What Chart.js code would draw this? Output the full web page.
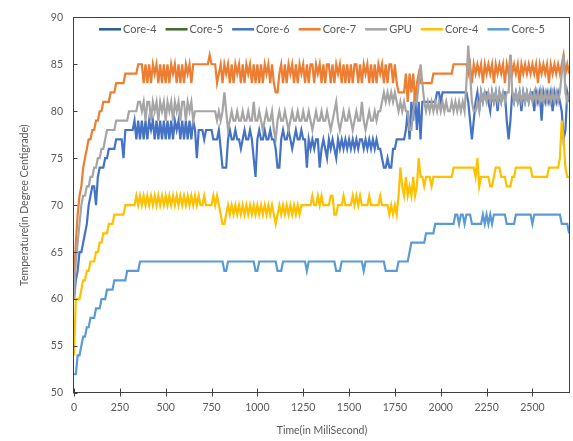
<!DOCTYPE html>
<html>
<head>
<meta charset="utf-8">
<script src="https://cdn.jsdelivr.net/npm/chart.js@4.4.1/dist/chart.umd.min.js"></script>
<style>
  html, body { margin: 0; padding: 0; background: #fff; }
</style>
</head>
<body>
<canvas id="tempChart" width="573" height="441"></canvas>
<script>
// one reading every 10 ms, 0..2700 ms (25 readings per row = 250 ms)
const SAMPLE_MS = 10;

const seriesLabels = ['Core-4', 'Core-5', 'Core-6', 'Core-7', 'GPU', 'Core-4', 'Core-5'];
const seriesColors = ['#255E91', '#43682B', '#4472C4', '#ED7D31', '#A5A5A5', '#FFC000', '#5B9BD5'];

// first Core-4 / Core-5 pair: listed in legend, no visible line in the source
const core4aTemps = [];
const core5aTemps = [];

const core6Temps = [
  60,62,63,65,65,66,67,68,70,71,72,72,70,73,74,74,74,75,75,76,76,76,76,77,77,
  77,77,75,78,78,78,78,78,79,77,79,77,79,77,79,77,79,78,79,77,79,77,79,77,79,
  77,79,77,79,77,79,78,79,77,79,77,79,77,79,77,79,78,75,78,78,78,77,78,78,78,
  78,77,77,77,78,76,74,74,74,77,78,77,77,78,77,77,76,77,78,77,77,78,77,75,73,
  77,78,77,77,78,77,77,78,77,77,76,74,74,77,78,77,77,78,77,76,77,78,77,77,78,
  77,77,74,77,76,77,76,77,77,74,76,77,76,75,77,76,77,76,75,77,76,77,76,77,76,
  77,76,77,76,77,76,77,77,76,77,76,77,76,77,76,77,76,76,75,74,74,75,74,74,76,
  76,77,77,77,77,77,78,80,77,81,79,82,78,81,77,81,81,81,81,81,81,81,81,82,82,
  81,82,82,82,82,82,82,82,82,82,82,82,82,82,82,81,79,77,79,81,82,80,82,81,82,
  82,81,80,82,81,82,80,82,81,82,82,79,77,79,82,81,82,81,82,80,82,81,82,81,82,
  82,80,82,81,82,79,82,81,82,81,82,80,82,81,82,81,80,77,78,82,81
];

const core7Temps = [
  62,66,69,71,72,74,75,76,77,77,78,78,79,79,80,80,81,81,81,81,82,82,82,83,83,
  83,83,83,84,84,84,84,84,84,84,85,85,85,83,85,83,85,83,85,84,85,83,85,83,85,
  83,85,83,85,84,85,83,85,83,85,83,85,84,85,83,85,85,85,85,85,85,85,85,85,86,
  85,85,85,83,84,85,83,85,84,85,83,85,83,85,84,85,83,85,83,85,84,85,83,85,83,
  85,83,85,83,85,84,85,83,85,83,82,82,84,85,83,85,83,85,84,85,83,85,83,85,84,
  85,83,85,83,85,85,83,85,84,85,83,85,83,85,85,83,85,83,85,84,85,83,85,83,85,
  83,85,83,85,85,83,85,83,85,84,85,83,85,83,85,83,85,84,85,83,85,83,85,85,83,
  85,83,82,82,82,82,84,81,84,82,84,81,83,84,83,83,83,83,83,83,83,84,84,84,84,
  84,84,84,84,84,84,84,85,85,85,85,85,85,85,85,84,85,83,85,84,85,84,85,83,85,
  84,85,84,85,83,85,84,85,84,85,83,85,84,86,84,85,84,85,83,85,84,85,84,85,84,
  85,84,85,83,85,84,85,84,85,83,85,84,85,84,85,84,85,86,84,85,84
];

const gpuTemps = [
  60,64,66,68,70,71,71,72,72,73,73,74,74,75,75,76,76,77,78,78,78,78,78,79,79,
  79,79,79,79,79,80,80,80,80,80,81,81,80,81,79,81,81,79,81,80,81,79,81,80,81,
  79,81,80,81,79,81,80,81,79,81,81,79,81,80,81,79,80,80,80,80,80,80,80,80,80,
  80,80,80,79,80,79,80,82,80,78,79,80,79,79,80,79,79,80,79,79,80,79,79,81,79,
  79,80,79,78,79,80,79,79,80,78,77,79,80,79,79,80,79,78,79,80,79,79,80,79,79,
  80,79,79,80,79,78,79,80,79,79,80,79,79,80,79,78,79,80,81,79,78,79,80,79,79,
  80,79,78,79,80,79,79,81,79,78,79,80,79,79,80,79,80,80,81,82,81,82,81,82,81,
  82,81,80,81,80,81,80,80,78,78,80,81,81,83,85,83,81,80,81,80,81,80,81,80,81,
  80,81,80,81,80,80,81,80,81,80,81,80,81,80,83,87,84,81,80,80,81,80,82,81,82,
  81,82,81,82,81,82,81,82,81,82,81,82,82,86,82,81,82,81,82,81,82,81,82,81,82,
  81,82,81,82,81,82,81,82,81,82,81,82,81,82,81,82,84,86,82,81,82
];

const core4bTemps = [
  54,60,60,60,61,62,62,63,63,64,64,64,65,65,66,66,67,67,67,68,68,68,69,69,69,
  69,69,69,70,70,70,70,70,70,71,70,71,70,71,70,71,70,71,70,71,70,71,70,71,70,
  71,70,71,70,71,70,71,70,71,70,71,70,71,70,71,70,71,70,71,70,70,71,70,70,70,
  70,71,70,71,70,69,68,68,69,70,69,70,69,70,69,70,69,70,69,70,69,70,69,70,69,
  70,69,70,69,70,69,70,69,70,69,68,69,70,69,70,69,70,69,70,69,70,69,70,69,70,
  70,70,70,70,70,71,70,70,71,70,71,70,70,70,70,71,71,69,69,70,70,70,71,70,70,
  70,70,71,70,71,70,71,70,70,70,70,71,70,70,70,70,70,71,70,70,70,70,69,70,69,
  70,69,71,74,72,71,73,71,72,71,73,71,72,75,73,73,72,73,73,73,72,73,73,73,73,
  73,73,73,73,73,73,73,74,74,74,74,74,74,74,74,74,74,74,74,73,75,72,73,73,73,
  73,73,72,72,73,74,74,74,73,73,73,72,72,72,73,73,74,74,74,74,74,74,74,74,74,
  73,73,73,73,73,73,73,73,73,74,74,74,74,74,74,75,79,77,74,73,73
];

const core5bTemps = [
  52,52,54,54,55,56,56,57,57,58,58,58,59,59,59,60,60,60,61,61,61,61,62,62,62,
  62,62,62,62,63,63,63,63,63,63,63,64,64,64,64,64,64,64,64,64,64,64,64,64,64,
  64,64,64,64,64,64,64,64,64,64,64,64,64,64,64,64,64,64,64,64,64,64,64,64,64,
  64,64,64,64,64,64,64,63,63,64,64,64,64,64,64,64,64,64,64,64,64,64,64,64,63,
  63,64,64,64,64,64,64,64,64,64,64,63,63,63,64,64,64,64,64,64,64,64,64,64,64,
  64,64,63,64,64,64,64,64,64,64,64,64,64,64,64,64,64,64,63,63,63,64,64,64,64,
  64,64,64,64,64,64,64,64,63,64,64,64,64,64,64,64,64,64,64,64,63,63,63,63,63,
  63,63,64,64,64,64,64,64,65,66,66,66,66,66,66,66,66,67,67,67,67,67,68,68,68,
  68,68,68,68,68,68,68,68,69,69,68,69,69,68,69,69,69,68,68,68,68,68,68,69,68,
  69,68,69,68,69,69,69,69,69,69,69,68,68,68,68,68,69,69,69,69,69,69,69,69,69,
  68,69,69,69,69,69,69,69,69,69,69,69,69,69,69,69,68,68,68,68,67
];

const xTickValues = [0, 250, 500, 750, 1000, 1250, 1500, 1750, 2000, 2250, 2500];
const yMin = 50, yMax = 90, yTickStep = 5;

const allSeries = [core4aTemps, core5aTemps, core6Temps, core7Temps, gpuTemps, core4bTemps, core5bTemps];

const TEXT_COLOR = '#595959';
const FONT = 'Lato, "Liberation Sans", sans-serif';

// legend drawn inside the plot box, like the original
const insideLegend = {
  id: 'insideLegend',
  afterDatasetsDraw(chart) {
    const { ctx, chartArea } = chart;
    const lineW = 22, textGap = 2, itemGap = 9;
    ctx.save();
    ctx.font = '11px ' + FONT;
    const items = chart.data.datasets.map(ds => ({
      label: ds.label, color: ds.borderColor, w: ctx.measureText(ds.label).width
    }));
    const total = items.reduce((s, it) => s + lineW + textGap + it.w, 0) + itemGap * (items.length - 1);
    let x = (chartArea.left + chartArea.right) / 2 - total / 2;
    const y = chartArea.top + 12;
    ctx.textBaseline = 'middle';
    items.forEach(it => {
      ctx.strokeStyle = it.color;
      ctx.lineWidth = 2.5;
      ctx.beginPath();
      ctx.moveTo(x, y);
      ctx.lineTo(x + lineW, y);
      ctx.stroke();
      ctx.fillStyle = TEXT_COLOR;
      ctx.fillText(it.label, x + lineW + textGap, y + 0.5);
      x += lineW + textGap + it.w + itemGap;
    });
    ctx.restore();
  }
};

// plot box and small tick marks
const plotFrame = {
  id: 'plotFrame',
  afterDraw(chart) {
    const { ctx, chartArea: a, scales: { x, y } } = chart;
    ctx.save();
    ctx.strokeStyle = '#404040';
    ctx.lineWidth = 1;
    const l = Math.round(a.left) - 0.5, t = Math.round(a.top) + 0.5;
    const r = Math.round(a.right) - 0.5, b = Math.round(a.bottom) - 0.5;
    ctx.strokeRect(l, t, r - l, b - t);
    ctx.beginPath();
    x.ticks.forEach(tk => {
      const px = Math.round(x.getPixelForValue(tk.value)) + 0.5;
      ctx.moveTo(px, b - 4);
      ctx.lineTo(px, b + 4);
    });
    y.ticks.forEach(tk => {
      const py = Math.round(y.getPixelForValue(tk.value)) + 0.5;
      ctx.moveTo(l, py);
      ctx.lineTo(l + 4, py);
    });
    ctx.stroke();
    ctx.restore();
  }
};

new Chart(document.getElementById('tempChart'), {
  type: 'line',
  data: {
    datasets: allSeries.map((temps, k) => ({
      label: seriesLabels[k],
      data: temps.map((v, i) => ({ x: i * SAMPLE_MS, y: v })),
      borderColor: seriesColors[k],
      backgroundColor: seriesColors[k],
      borderWidth: 2.2,
      pointRadius: 0,
      tension: 0,
      borderJoinStyle: 'miter',
      order: allSeries.length - k
    }))
  },
  options: {
    responsive: false,
    animation: false,
    devicePixelRatio: 1,
    layout: { padding: { top: 14, right: 3, bottom: 0, left: 0 } },
    plugins: {
      legend: { display: false },
      tooltip: { enabled: false }
    },
    scales: {
      x: {
        type: 'linear',
        min: 0,
        max: 2705,
        grid: { display: false, drawTicks: false },
        border: { display: false },
        afterBuildTicks: s => { s.ticks = xTickValues.map(v => ({ value: v })); },
        ticks: {
          autoSkip: false, maxRotation: 0, padding: 8, color: TEXT_COLOR,
          font: { family: FONT, size: 10.5 },
          callback: v => String(v)
        },
        title: {
          display: true, text: 'Time(in MiliSecond)', color: TEXT_COLOR,
          font: { family: FONT, size: 10.5 }, padding: { top: 0, bottom: 4 }
        },
        afterFit: s => { s.height = 48; }
      },
      y: {
        min: yMin,
        max: yMax,
        grid: { display: false, drawTicks: false },
        border: { display: false },
        ticks: {
          stepSize: yTickStep, padding: 11, color: TEXT_COLOR,
          font: { family: FONT, size: 10.5 }
        },
        title: {
          display: true, text: 'Temperature(in Degree Centigrade)', color: TEXT_COLOR,
          font: { family: FONT, size: 10.5 }, padding: { top: 18, bottom: 0 }
        },
        afterFit: s => { s.width = 74; }
      }
    }
  },
  plugins: [insideLegend, plotFrame]
});
</script>
</body>
</html>
